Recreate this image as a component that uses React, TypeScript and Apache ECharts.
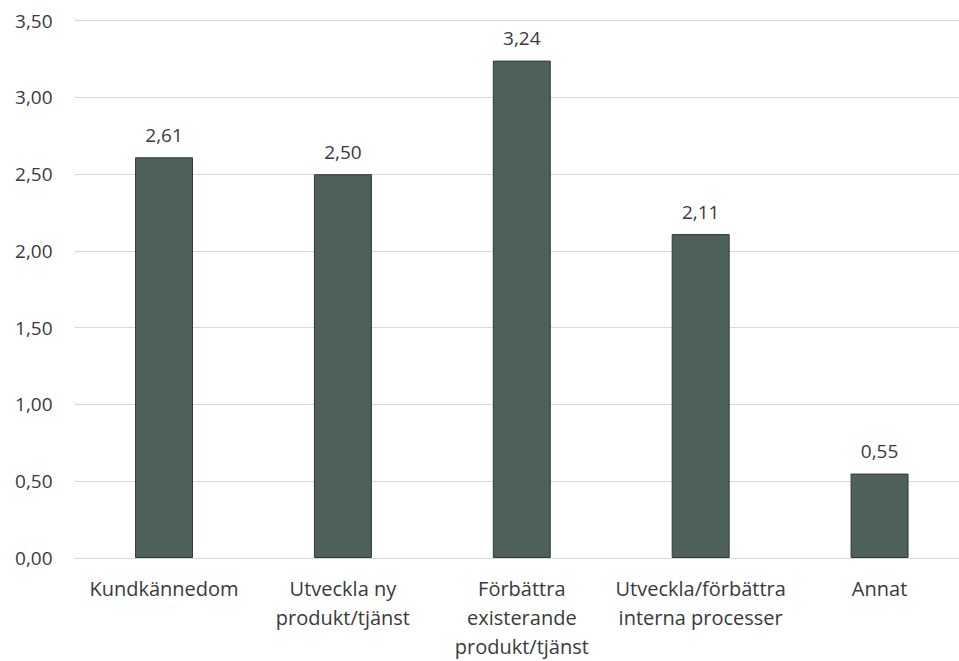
import React, { useEffect, useRef } from "react";
import * as echarts from "echarts";

const categories = [
  "Kundkännedom",
  "Utveckla ny\nprodukt/tjänst",
  "Förbättra\nexisterande\nprodukt/tjänst",
  "Utveckla/förbättra\ninterna processer",
  "Annat",
];
const values = [2.61, 2.5, 3.24, 2.11, 0.55];
const yTicks = { min: 0, max: 3.5, interval: 0.5 };

const fmt = (v: number) => v.toFixed(2).replace(".", ",");

export default function App() {
  const ref = useRef<HTMLDivElement>(null);

  useEffect(() => {
    if (!ref.current) return;
    const chart = echarts.init(ref.current, null, { renderer: "svg" });
    const font = "'Open Sans', 'Noto Sans', sans-serif";
    const textColor = "#3a3a3a";
    chart.setOption({
      animation: false,
      grid: { left: 74.6, right: 11, top: 20.7, bottom: 102 },
      xAxis: {
        type: "category",
        data: categories,
        axisLine: { show: true, lineStyle: { color: "#d9d9d9", width: 1 } },
        axisTick: { show: false },
        axisLabel: {
          interval: 0,
          color: textColor,
          fontFamily: font,
          fontSize: 20,
          lineHeight: 29,
          margin: 16,
        },
      },
      yAxis: {
        type: "value",
        min: yTicks.min,
        max: yTicks.max,
        interval: yTicks.interval,
        axisLine: { show: false },
        axisTick: { show: false },
        splitLine: { lineStyle: { color: "#d9d9d9", width: 1 } },
        axisLabel: {
          color: textColor,
          fontFamily: font,
          fontSize: 19,
          margin: 22,
          formatter: (v: number) => fmt(v),
        },
      },
      series: [
        {
          type: "bar",
          data: values,
          barWidth: "32.4%",
          itemStyle: { color: "#4e6159", borderColor: "#2e3a34", borderWidth: 1 },
          label: {
            show: true,
            position: "top",
            distance: 13,
            color: textColor,
            fontFamily: font,
            fontSize: 19,
            formatter: (p: any) => fmt(p.value),
          },
        },
      ],
    });
    return () => chart.dispose();
  }, []);

  return (
    <div
      style={{
        position: "fixed",
        left: 0,
        top: 0,
        width: 959,
        height: 661,
        overflow: "hidden",
        background: "#fff",
      }}
    >
      <div ref={ref} style={{ width: 980, height: 661 }} />
    </div>
  );
}
